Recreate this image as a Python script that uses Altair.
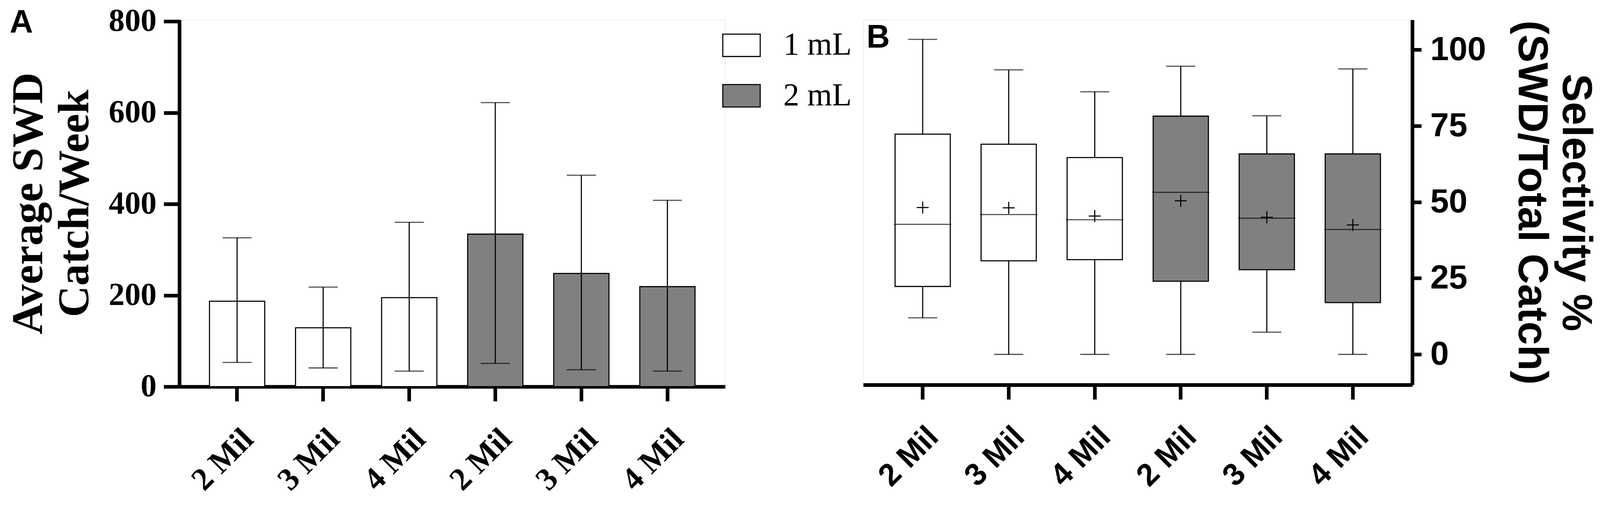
import altair as alt
import pandas as pd

# ---------------- data ----------------
mils = ["2 Mil", "3 Mil", "4 Mil", "2 Mil", "3 Mil", "4 Mil"]
doses = ["1 mL", "1 mL", "1 mL", "2 mL", "2 mL", "2 mL"]
keys = [d + "|" + m for d, m in zip(doses, mils)]

# Panel A: average SWD catch / week (mean, SD upper, SD lower)
catch_mean = [187, 129, 195, 334, 248, 219]
catch_hi = [326, 218, 360, 622, 463, 408]
catch_lo = [53, 41, 34, 51, 37, 34]

# Panel B: selectivity % box plot
sel_min = [12.0, 0.0, 0.0, 0.0, 7.3, 0.0]
sel_q1 = [22.3, 30.7, 31.1, 24.0, 27.8, 17.0]
sel_med = [42.7, 45.9, 44.2, 53.2, 44.7, 41.0]
sel_q3 = [72.3, 69.0, 64.6, 78.2, 65.8, 65.8]
sel_max = [103.4, 93.4, 86.2, 94.6, 78.3, 93.7]
sel_mean = [48.2, 48.1, 45.4, 50.4, 45.0, 42.5]

dose_domain = ["1 mL", "2 mL"]
dose_colors = ["#ffffff", "#808080"]

dfA = pd.DataFrame({"key": keys, "mil": mils, "dose": doses,
                    "mean": catch_mean, "hi": catch_hi, "lo": catch_lo})
dfB = pd.DataFrame({"key": keys, "mil": mils, "dose": doses,
                    "min": sel_min, "q1": sel_q1, "med": sel_med,
                    "q3": sel_q3, "max": sel_max, "mean": sel_mean})

SERIF = "Liberation Serif"
SANS = "Liberation Sans"
LBL = "split(datum.value, '|')[1]"

# ---------------- panel A ----------------
xA = alt.X("key:N", sort=keys, title=None,
           scale=alt.Scale(paddingInner=0.358, paddingOuter=0.35),
           axis=alt.Axis(labelExpr=LBL, labelAngle=315, labelFont=SERIF,
                         labelFontSize=88, labelFontWeight="bold",
                         labelColor="black", labelPadding=60, labelLimit=0,
                         tickSize=40, tickWidth=10, tickColor="black",
                         domainWidth=10, domainColor="black"))
yA_scale = alt.Scale(domain=[0, 803.2], nice=False, zero=True)

barsA = alt.Chart(dfA).mark_bar(stroke="black", strokeWidth=3).encode(
    x=xA,
    y=alt.Y("mean:Q", scale=yA_scale,
            title=["Average SWD", "Catch/Week"],
            axis=alt.Axis(values=[0, 200, 400, 600, 800], grid=False,
                          labelFont=SERIF, labelFontSize=88,
                          labelFontWeight="bold", labelColor="black",
                          labelPadding=20, tickSize=43, tickWidth=10,
                          tickColor="black", domainWidth=10,
                          domainColor="black",
                          titleFont=SERIF, titleFontSize=120,
                          titleFontWeight="bold", titleColor="black",
                          titleLineHeight=127, titlePadding=31)),
    fill=alt.Fill("dose:N",
                  scale=alt.Scale(domain=dose_domain, range=dose_colors),
                  legend=alt.Legend(title=None, orient="none",
                                    legendX=1494, legendY=17,
                                    symbolType="M-1,-0.6H1V0.6H-1Z",
                                    symbolSize=10609,
                                    symbolStrokeColor="black",
                                    symbolStrokeWidth=3,
                                    symbolOpacity=1,
                                    labelFont=SERIF, labelFontSize=88,
                                    labelColor="black", labelOffset=62,
                                    labelLimit=0, rowPadding=42)),
)
errA = alt.Chart(dfA).mark_rule(color="black", strokeWidth=3).encode(
    x=alt.X("key:N", sort=keys), y=alt.Y("lo:Q", scale=yA_scale), y2="hi:Q")
capHiA = alt.Chart(dfA).mark_tick(color="black", size=80, thickness=3).encode(
    x=alt.X("key:N", sort=keys), y=alt.Y("hi:Q", scale=yA_scale))
capLoA = alt.Chart(dfA).mark_tick(color="black", size=80, thickness=3).encode(
    x=alt.X("key:N", sort=keys), y=alt.Y("lo:Q", scale=yA_scale))

panelA = alt.layer(barsA, errA, capHiA, capLoA).properties(
    width=1502, height=1010,
    title=alt.TitleParams("A", anchor="start", frame="group", font=SANS,
                          fontSize=89, fontWeight="bold", color="black",
                          baseline="alphabetic", offset=-165, dx=-467))

# ---------------- panel B ----------------
xB = alt.X("key:N", sort=keys, title=None,
           scale=alt.Scale(paddingInner=0.358, paddingOuter=0.37),
           axis=alt.Axis(labelExpr=LBL, labelAngle=315, labelFont=SANS,
                         labelFontSize=86, labelFontWeight="bold",
                         labelColor="black", labelPadding=60, labelLimit=0,
                         tickSize=40, tickWidth=10, tickColor="black",
                         domainWidth=10, domainColor="black"))
yB_scale = alt.Scale(domain=[-10.0, 109.8], nice=False, zero=False)
yB_axis = alt.Axis(orient="right", values=[0, 25, 50, 75, 100], grid=False,
                   labelFont=SANS, labelFontSize=92, labelFontWeight="bold",
                   labelColor="black", labelPadding=24, tickSize=25,
                   tickWidth=10, tickColor="black", domainWidth=10,
                   domainColor="black", titleFont=SANS, titleFontSize=116,
                   titleFontWeight="bold", titleColor="black",
                   titleLineHeight=122, titlePadding=68)

whiskB = alt.Chart(dfB).mark_rule(color="black", strokeWidth=3).encode(
    x=xB,
    y=alt.Y("min:Q", scale=yB_scale, axis=yB_axis,
            title=["Selectivity %", "(SWD/Total Catch)"]),
    y2="max:Q")
boxB = alt.Chart(dfB).mark_bar(stroke="black", strokeWidth=3).encode(
    x=alt.X("key:N", sort=keys), y=alt.Y("q1:Q", scale=yB_scale), y2="q3:Q",
    fill=alt.Fill("dose:N",
                  scale=alt.Scale(domain=dose_domain, range=dose_colors),
                  legend=None))
medB = alt.Chart(dfB).mark_tick(color="black", size=158, thickness=3).encode(
    x=alt.X("key:N", sort=keys), y=alt.Y("med:Q", scale=yB_scale))
capHiB = alt.Chart(dfB).mark_tick(color="black", size=80, thickness=3).encode(
    x=alt.X("key:N", sort=keys), y=alt.Y("max:Q", scale=yB_scale))
capLoB = alt.Chart(dfB).mark_tick(color="black", size=80, thickness=3).encode(
    x=alt.X("key:N", sort=keys), y=alt.Y("min:Q", scale=yB_scale))
meanB = alt.Chart(dfB).mark_point(shape="M-1,0H1M0,-1V1", size=1089,
                                  filled=False, stroke="black",
                                  strokeWidth=3, opacity=1).encode(
    x=alt.X("key:N", sort=keys), y=alt.Y("mean:Q", scale=yB_scale))

panelB = alt.layer(whiskB, boxB, medB, capHiB, capLoB, meanB).properties(
    width=1511, height=1005,
    title=alt.TitleParams("B", anchor="start", frame="group", font=SANS,
                          fontSize=89, fontWeight="bold", color="black",
                          baseline="alphabetic", offset=-165, dx=9))

chart = alt.hconcat(panelA, panelB, spacing=380, bounds="flush").resolve_scale(
    fill="independent").configure_view(stroke=None).configure(
    padding={"left": 10, "top": -44, "right": 0, "bottom": 0},
    background="white")

chart.save("out.html", embed_options={"renderer": "svg", "actions": False})
